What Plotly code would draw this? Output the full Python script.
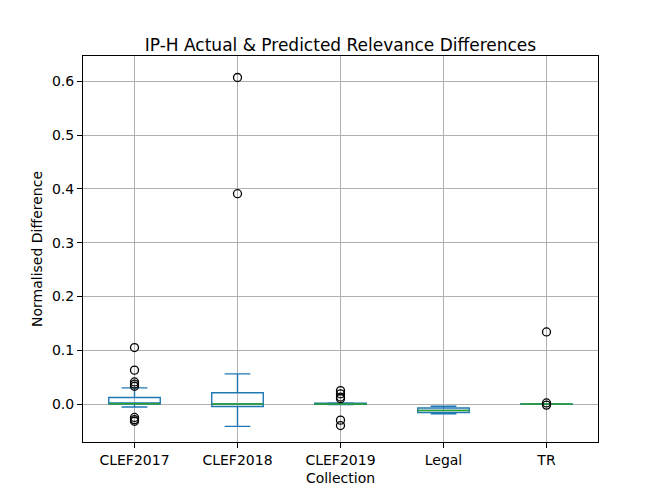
import plotly.graph_objects as go

categories = ["CLEF2017", "CLEF2018", "CLEF2019", "Legal", "TR"]
q1 = [0.0, -0.0045, -0.0005, -0.016, -0.0003]
median = [0.0005, 0.0, 0.0, -0.012, 0.0]
q3 = [0.012, 0.021, 0.0015, -0.0075, 0.0003]
lowerfence = [-0.0056, -0.0416, -0.001, -0.018, -0.0005]
upperfence = [0.030, 0.056, 0.002, -0.004, 0.0005]
outliers = [
    [0.105, 0.063, 0.041, 0.037, 0.033, -0.025, -0.029, -0.032],
    [0.607, 0.391],
    [0.025, 0.019, 0.013, 0.010, -0.030, -0.040],
    [],
    [0.134, 0.002, -0.002],
]

positions = list(range(1, len(categories) + 1))
half = 0.25

fig = go.Figure()
fig.add_trace(go.Box(
    x=positions, q1=q1, median=median, q3=q3,
    lowerfence=lowerfence, upperfence=upperfence,
    width=0.5, whiskerwidth=0.5,
    line=dict(color="#1f77b4", width=1.4),
    fillcolor="rgba(0,0,0,0)",
    boxpoints=False, showlegend=False, hoverinfo="skip",
))

# median lines in green
for p, m in zip(positions, median):
    fig.add_trace(go.Scatter(
        x=[p - half, p + half], y=[m, m], mode="lines",
        line=dict(color="#2ca02c", width=1.4), showlegend=False, hoverinfo="skip",
    ))

# outliers
for p, vals in zip(positions, outliers):
    if vals:
        fig.add_trace(go.Scatter(
            x=[p] * len(vals), y=vals, mode="markers",
            marker=dict(symbol="circle-open", size=8, color="black", line=dict(width=1.3)),
            showlegend=False, hoverinfo="skip",
        ))

fig.update_layout(
    width=664, height=498, autosize=False,
    margin=dict(l=75, r=74, t=48, b=64, pad=0),
    paper_bgcolor="white", plot_bgcolor="white",
    font=dict(family="DejaVu Sans", size=14, color="black"),
    title=dict(text="IP-H Actual & Predicted Relevance Differences", x=0.5, xanchor="center",
               xref="paper", y=1 - 43 / 498, yanchor="bottom", font=dict(size=17)),
)
fig.update_xaxes(
    range=[0.5, 5.5], tickmode="array", tickvals=positions, ticktext=categories,
    tickfont=dict(size=14),
    showgrid=True, gridcolor="#b0b0b0", gridwidth=1,
    showline=True, linecolor="black", linewidth=1, mirror=True,
    ticks="outside", ticklen=5, tickcolor="black", zeroline=False,
    title=dict(text="Collection", standoff=6, font=dict(size=14)),
)
fig.update_yaxes(
    range=[-0.0706, 0.647], tickmode="array",
    tickvals=[0.0, 0.1, 0.2, 0.3, 0.4, 0.5, 0.6], tickformat=".1f",
    tickfont=dict(size=14),
    showgrid=True, gridcolor="#b0b0b0", gridwidth=1,
    showline=True, linecolor="black", linewidth=1, mirror=True,
    ticks="outside", ticklen=5, tickcolor="black", zeroline=False,
    title=dict(text="Normalised Difference", standoff=6, font=dict(size=14)),
)

fig.write_html("out.html")
